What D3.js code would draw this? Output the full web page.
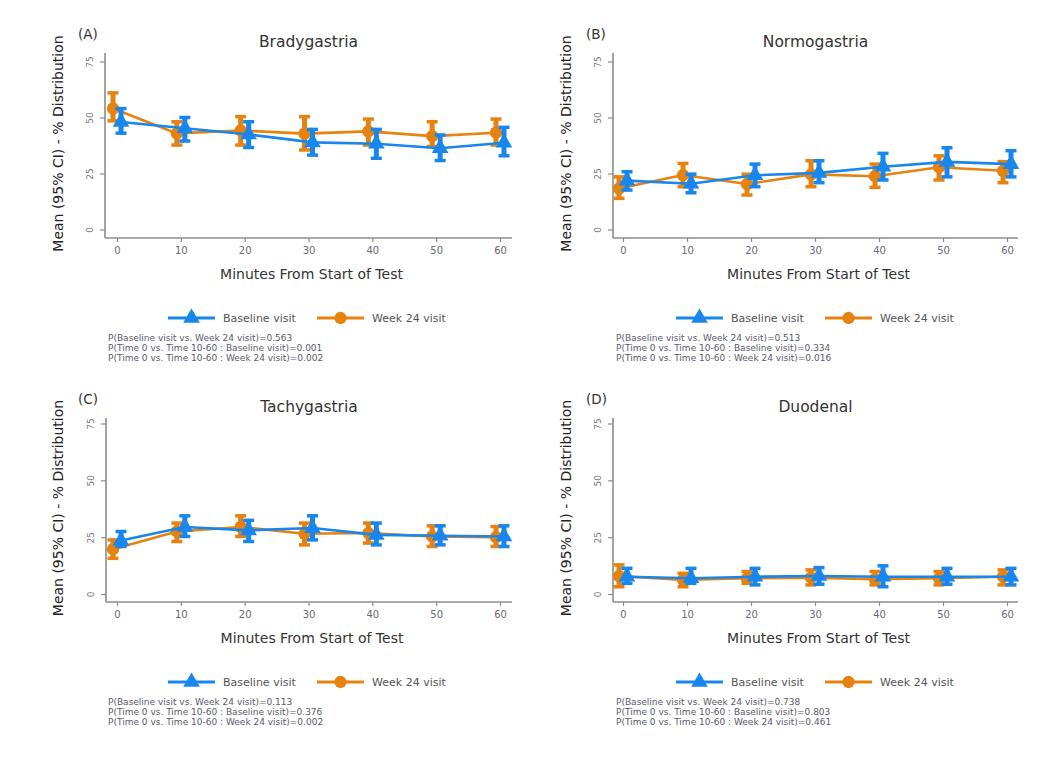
<!DOCTYPE html>
<html>
<head>
<meta charset="utf-8">
<script src="https://cdn.jsdelivr.net/npm/d3@7"></script>
<style>
  html, body { margin: 0; padding: 0; background: #fff; }
  svg { display: block; font-family: "DejaVu Sans", "Liberation Sans", Arial, sans-serif; }
</style>
</head>
<body>
<svg id="chart" width="1050" height="764"></svg>
<script>
// ---------- data ----------
const minutes = [0, 10, 20, 30, 40, 50, 60];
const yTicks = [0, 25, 50, 75];
const panelTitles = ["Bradygastria", "Normogastria", "Tachygastria", "Duodenal"];
const panelLetters = ["(A)", "(B)", "(C)", "(D)"];
const seriesNames = ["Baseline visit", "Week 24 visit"];

// Bradygastria
const bradyBaseMean = [48.0, 45.2, 42.4, 38.9, 38.3, 36.3, 38.7];
const bradyBaseLo   = [43.0, 39.5, 36.6, 33.2, 31.8, 30.8, 32.9];
const bradyBaseHi   = [54.0, 50.0, 48.1, 44.7, 44.7, 42.2, 45.6];
const bradyWeekMean = [54.0, 42.9, 44.2, 42.8, 43.8, 41.7, 43.2];
const bradyWeekLo   = [48.5, 37.7, 37.7, 35.5, 37.7, 37.0, 37.7];
const bradyWeekHi   = [61.0, 48.1, 50.4, 50.4, 49.3, 48.1, 49.3];

// Normogastria
const normoBaseMean = [21.8, 20.4, 24.2, 25.3, 28.0, 30.2, 29.2];
const normoBaseLo   = [17.6, 16.4, 19.1, 20.9, 22.1, 23.5, 23.5];
const normoBaseHi   = [25.8, 24.7, 29.2, 30.7, 34.0, 36.5, 35.2];
const normoWeekMean = [18.3, 24.3, 20.3, 24.6, 23.8, 27.8, 26.2];
const normoWeekLo   = [13.9, 19.1, 15.4, 19.1, 18.8, 22.1, 20.9];
const normoWeekHi   = [23.5, 29.5, 24.7, 30.7, 29.2, 32.9, 30.3];

// Tachygastria
const tachyBaseMean = [23.5, 29.5, 28.0, 29.0, 26.0, 25.6, 25.3];
const tachyBaseLo   = [20.9, 25.3, 23.1, 23.8, 21.6, 21.6, 20.9];
const tachyBaseHi   = [27.5, 34.4, 32.4, 34.4, 31.2, 30.0, 30.0];
const tachyWeekMean = [19.7, 27.5, 29.5, 26.5, 26.8, 25.3, 25.0];
const tachyWeekLo   = [15.7, 23.1, 25.3, 21.6, 22.4, 20.9, 20.9];
const tachyWeekHi   = [23.8, 31.2, 34.4, 31.2, 31.2, 30.0, 29.7];

// Duodenal
const duoBaseMean = [7.6, 6.9, 7.6, 7.9, 7.6, 7.6, 7.6];
const duoBaseLo   = [4.7, 4.7, 4.0, 4.3, 3.2, 4.3, 4.0];
const duoBaseHi   = [11.3, 11.3, 11.3, 11.6, 12.4, 11.3, 11.3];
const duoWeekMean = [7.9, 6.2, 6.9, 7.2, 6.5, 6.9, 7.6];
const duoWeekLo   = [3.2, 3.2, 4.7, 4.0, 4.0, 4.0, 4.0];
const duoWeekHi   = [12.8, 9.1, 9.9, 10.6, 9.9, 9.9, 10.6];

const bradyPText = ["P(Baseline visit vs. Week 24 visit)=0.563", "P(Time 0 vs. Time 10-60 : Baseline visit)=0.001", "P(Time 0 vs. Time 10-60 : Week 24 visit)=0.002"];
const normoPText = ["P(Baseline visit vs. Week 24 visit)=0.513", "P(Time 0 vs. Time 10-60 : Baseline visit)=0.334", "P(Time 0 vs. Time 10-60 : Week 24 visit)=0.016"];
const tachyPText = ["P(Baseline visit vs. Week 24 visit)=0.113", "P(Time 0 vs. Time 10-60 : Baseline visit)=0.376", "P(Time 0 vs. Time 10-60 : Week 24 visit)=0.002"];
const duoPText   = ["P(Baseline visit vs. Week 24 visit)=0.738", "P(Time 0 vs. Time 10-60 : Baseline visit)=0.803", "P(Time 0 vs. Time 10-60 : Week 24 visit)=0.461"];

// ---------- layout / style ----------
const BLUE = "#1787ee";
const ORANGE = "#e7810f";
const AXIS = "#8c8c8c";
const FONT = "DejaVu Sans, Liberation Sans, Arial, sans-serif";

const panels = [
  { title: panelTitles[0], letter: panelLetters[0], p: bradyPText,
    base: [bradyBaseMean, bradyBaseLo, bradyBaseHi], week: [bradyWeekMean, bradyWeekLo, bradyWeekHi],
    axX: 105, axY: 238, top: 53, right: 512, xr: [117, 500], yr: [229.5, 61.5], dx: 0, dy: 0 },
  { title: panelTitles[1], letter: panelLetters[1], p: normoPText,
    base: [normoBaseMean, normoBaseLo, normoBaseHi], week: [normoWeekMean, normoWeekLo, normoWeekHi],
    axX: 613, axY: 238, top: 53, right: 1018, xr: [623, 1007], yr: [229.5, 61.5], dx: 508, dy: 0 },
  { title: panelTitles[2], letter: panelLetters[2], p: tachyPText,
    base: [tachyBaseMean, tachyBaseLo, tachyBaseHi], week: [tachyWeekMean, tachyWeekLo, tachyWeekHi],
    axX: 106, axY: 602, top: 418, right: 512, xr: [117, 500], yr: [594, 423.5], dx: 0, dy: 365 },
  { title: panelTitles[3], letter: panelLetters[3], p: duoPText,
    base: [duoBaseMean, duoBaseLo, duoBaseHi], week: [duoWeekMean, duoWeekLo, duoWeekHi],
    axX: 613, axY: 602, top: 418, right: 1018, xr: [623, 1007], yr: [594, 423.5], dx: 508, dy: 365 }
];

const svg = d3.select("#chart");

panels.forEach(pn => {
  const g = svg.append("g");
  const x = d3.scaleLinear().domain([0, 60]).range(pn.xr);
  const y = d3.scaleLinear().domain([0, 75]).range(pn.yr);

  // panel letter and title
  g.append("text").attr("x", 78 + pn.dx).attr("y", 39 + pn.dy)
    .attr("font-size", 13.5).attr("fill", "#333").text(pn.letter);
  g.append("text").attr("x", (pn.axX + pn.right) / 2).attr("y", 47 + pn.dy)
    .attr("text-anchor", "middle").attr("font-size", 15.5).attr("fill", "#333").text(pn.title);

  // y axis
  const yAxis = d3.axisLeft(y).tickValues(yTicks).tickSize(5).tickSizeOuter(0).tickFormat(d3.format("d"));
  const ya = g.append("g").attr("transform", `translate(${pn.axX},0)`).call(yAxis);
  ya.select(".domain").remove();
  ya.selectAll(".tick line").attr("stroke", AXIS).attr("stroke-width", 1.2);
  ya.selectAll(".tick text")
    .attr("x", null).attr("dy", null)
    .attr("transform", "translate(-12,0) rotate(-90)")
    .attr("text-anchor", "middle")
    .attr("font-size", 9).attr("fill", "#777")
    .attr("font-family", FONT);
  g.append("line").attr("x1", pn.axX).attr("x2", pn.axX).attr("y1", pn.top).attr("y2", pn.axY)
    .attr("stroke", AXIS).attr("stroke-width", 1.6);

  // x axis
  const xAxis = d3.axisBottom(x).tickValues(minutes).tickSize(4).tickSizeOuter(0).tickFormat(d3.format("d"));
  const xa = g.append("g").attr("transform", `translate(0,${pn.axY})`).call(xAxis);
  xa.select(".domain").remove();
  xa.selectAll(".tick line").attr("stroke", AXIS).attr("stroke-width", 1.2);
  xa.selectAll(".tick text").attr("y", 9).attr("font-size", 10).attr("fill", "#6a6a7a")
    .attr("font-family", FONT);
  g.append("line").attr("x1", pn.axX).attr("x2", pn.right).attr("y1", pn.axY).attr("y2", pn.axY)
    .attr("stroke", AXIS).attr("stroke-width", 1.6);

  // axis titles
  const ymid = (pn.top + pn.axY) / 2 - 2;
  g.append("text").attr("transform", `translate(${63 + pn.dx},${ymid}) rotate(-90)`)
    .attr("text-anchor", "middle").attr("font-size", 14).attr("fill", "#222")
    .text("Mean (95% CI) - % Distribution");
  g.append("text").attr("x", (pn.axX + pn.right) / 2 + 3).attr("y", pn.axY + 41)
    .attr("text-anchor", "middle").attr("font-size", 14).attr("fill", "#333")
    .text("Minutes From Start of Test");

  // series
  const series = [
    { vals: pn.week, color: ORANGE, off: -4, marker: "circle" },
    { vals: pn.base, color: BLUE, off: 4, marker: "triangle" }
  ];
  series.forEach(s => {
    const pts = minutes.map((m, i) => ({ m, mean: s.vals[0][i], lo: s.vals[1][i], hi: s.vals[2][i] }));
    const sg = g.append("g");
    sg.append("path").datum(pts)
      .attr("fill", "none").attr("stroke", s.color).attr("stroke-width", 2.6)
      .attr("d", d3.line().x(d => x(d.m) + s.off).y(d => y(d.mean)));
    // error bars
    sg.selectAll(".eb").data(pts).join("line")
      .attr("x1", d => x(d.m) + s.off).attr("x2", d => x(d.m) + s.off)
      .attr("y1", d => y(d.lo)).attr("y2", d => y(d.hi))
      .attr("stroke", s.color).attr("stroke-width", 5);
    ["lo", "hi"].forEach(k => {
      sg.selectAll(".cap" + k).data(pts).join("line")
        .attr("x1", d => x(d.m) + s.off - 5.5).attr("x2", d => x(d.m) + s.off + 5.5)
        .attr("y1", d => y(d[k])).attr("y2", d => y(d[k]))
        .attr("stroke", s.color).attr("stroke-width", 3.5);
    });
    // markers
    const sym = d3.symbol().type(s.marker === "circle" ? d3.symbolCircle : d3.symbolTriangle)
      .size(120);
    sg.selectAll(".mk").data(pts).join("path")
      .attr("transform", d => `translate(${x(d.m) + s.off},${y(d.mean)})`)
      .attr("d", sym).attr("fill", s.color);
  });

  // legend
  const ly = pn.axY + 80;
  const lx = 168 + pn.dx;
  const leg = [
    { name: seriesNames[0], color: BLUE, marker: d3.symbolTriangle, x0: lx },
    { name: seriesNames[1], color: ORANGE, marker: d3.symbolCircle, x0: lx + 149 }
  ];
  leg.forEach(l => {
    g.append("line").attr("x1", l.x0).attr("x2", l.x0 + 47).attr("y1", ly).attr("y2", ly)
      .attr("stroke", l.color).attr("stroke-width", 3);
    g.append("path").attr("transform", `translate(${l.x0 + 23.5},${ly})`)
      .attr("d", d3.symbol().type(l.marker).size(120)).attr("fill", l.color);
    g.append("text").attr("x", l.x0 + 55).attr("y", ly + 4).attr("font-size", 11).attr("fill", "#555")
      .text(l.name);
  });

  // p-value notes
  pn.p.forEach((t, i) => {
    g.append("text").attr("x", 108 + pn.dx).attr("y", pn.axY + 103 + i * 10)
      .attr("font-size", 9).attr("fill", "#5a5a6e").text(t);
  });
});
</script>
</body>
</html>
